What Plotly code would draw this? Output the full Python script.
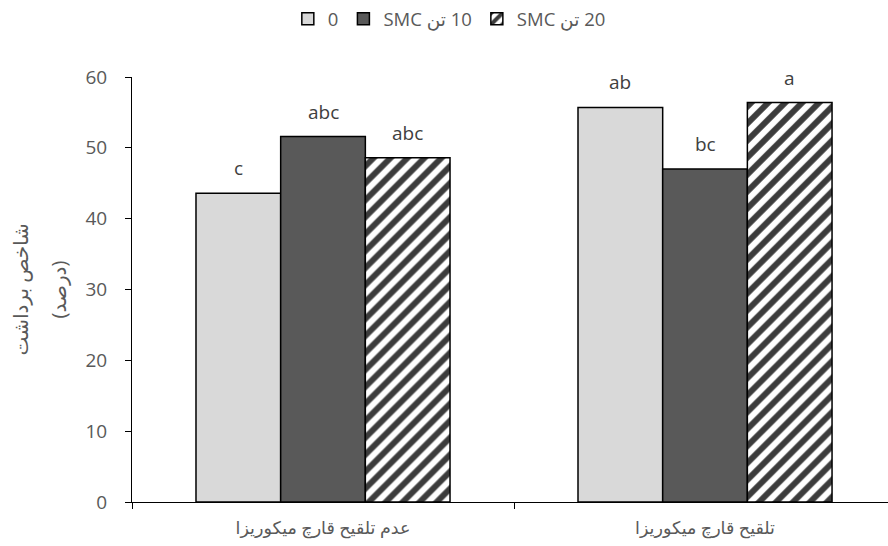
import plotly.graph_objects as go

categories = ["عدم تلقیح قارچ میکوریزا", "تلقیح قارچ میکوریزا"]
series_names = ["0", "SMC تن\u200E 10", "SMC تن\u200E 20"]
values_0 = [43.6, 55.7]
values_10 = [51.6, 47.0]
values_20 = [48.6, 56.4]
letters_0 = ["c", "ab"]
letters_10 = ["abc", "bc"]
letters_20 = ["abc", "a"]
y_ticks = [0, 10, 20, 30, 40, 50, 60]
y_title_lines = ["شاخص برداشت", "(درصد)"]

series_values = [values_0, values_10, values_20]
series_letters = [letters_0, letters_10, letters_20]
fills = ["#d9d9d9", "#595959", "white"]
patterns = [None, None, dict(shape="/", fgcolor="#3c3c3c", bgcolor="white", size=12,
                             solidity=0.5, fgopacity=1)]

GREY = "#595959"
FONT = "Open Sans, DejaVu Sans, sans-serif"
bargap = 0.335
xs = list(range(len(categories)))

fig = go.Figure()
for name, vals, fill, pat in zip(series_names, series_values, fills, patterns):
    marker = dict(color=fill, line=dict(color="black", width=1.5))
    if pat:
        marker["pattern"] = pat
    fig.add_trace(go.Bar(x=xs, y=vals, name=name, marker=marker))

nser = len(series_values)
bw = (1 - bargap) / nser
for j, (vals, labs) in enumerate(zip(series_values, series_letters)):
    for i, (v, t) in enumerate(zip(vals, labs)):
        fig.add_annotation(x=xs[i] + (j - (nser - 1) / 2) * bw, y=v, text=t,
                           showarrow=False, yshift=25, yanchor="middle",
                           font=dict(size=19, color="#404040", family=FONT))

# two-line rotated y-axis title
for k, (line, shift) in enumerate(zip(y_title_lines, [-112, -74])):
    fig.add_annotation(xref="paper", yref="paper", x=0, y=0.5, xshift=shift,
                       text=line, textangle=-90, showarrow=False,
                       xanchor="center", yanchor="middle",
                       font=dict(size=20, color=GREY, family=FONT))

fig.update_layout(
    width=888, height=546,
    margin=dict(l=132, r=0, t=77, b=44),
    plot_bgcolor="white", paper_bgcolor="white",
    barmode="group", bargap=bargap, bargroupgap=0,
    font=dict(family=FONT, size=19, color=GREY),
    legend=dict(orientation="h", xref="container", yref="container",
                x=0.506, xanchor="center", y=0.965, yanchor="middle",
                itemwidth=30, font=dict(size=18.5, color=GREY), traceorder="normal"),
    xaxis=dict(range=[-0.5, 1.479], tickvals=xs, ticktext=categories,
               showgrid=False, zeroline=False, showline=True, linecolor="black",
               linewidth=1, ticks="", ticklabelstandoff=10,
               tickfont=dict(size=17.5, color=GREY),
               minor=dict(ticks="outside", tick0=-0.5, dtick=1, ticklen=6,
                          tickcolor="black", showgrid=False)),
    yaxis=dict(range=[0, 60], tickvals=y_ticks, showgrid=False, zeroline=False,
               showline=True, linecolor="black", linewidth=1,
               ticks="outside", ticklen=6, tickcolor="black",
               ticklabelstandoff=14, tickfont=dict(size=19, color=GREY)),
)

fig.write_html("out.html")
